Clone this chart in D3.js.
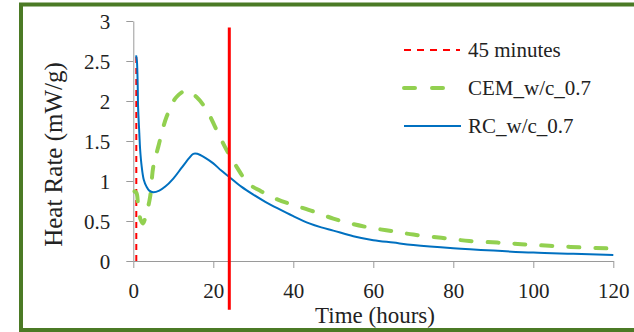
<!DOCTYPE html>
<html><head><meta charset="utf-8">
<script src="https://cdn.jsdelivr.net/npm/d3@7"></script>
<style>body{margin:0;background:#fff}svg{display:block}text{font-family:"Liberation Serif","Times New Roman",serif;fill:#222}</style>
</head><body><svg id="c" width="634" height="332"></svg>
<script>
// ---- data ----
const rcTime = [0.7,0.9,1.1,1.2,1.5,1.7,2.1,2.6,3.3,4,5,6.5,8,10,12,14,15,16,18,20,22,24,27,30,33,36,40,44,47,50,55,60,65,70,80,90,100,110,120];
const rcRate = [2.57,2.5,2.2,1.92,1.6,1.4,1.18,1.02,0.93,0.88,0.86,0.88,0.93,1.03,1.16,1.29,1.34,1.34,1.29,1.22,1.13,1.05,0.93,0.83,0.74,0.66,0.56,0.47,0.42,0.38,0.31,0.26,0.23,0.2,0.16,0.13,0.105,0.09,0.075];
const cemTime = [0.3,0.8,1.2,1.8,2.4,3.3,4.2,5,6.25,8.3,10.8,13.3,15.8,18.3,20.8,23.3,25.8,28.75,32,36,40,45,50,55,60,65,70,77,84,91,97,104,112,120];
const cemRate = [0.87,0.85,0.7,0.52,0.47,0.6,0.8,1.18,1.43,1.8,2.05,2.13,2.05,1.89,1.64,1.39,1.18,0.97,0.87,0.77,0.7,0.62,0.53,0.46,0.41,0.37,0.33,0.29,0.25,0.23,0.21,0.19,0.17,0.155];
const markerTime = [0.75, 24];          // 45 minutes, 24 h
const markerFrom = [0, -0.61];
const markerTo = [2.55, 2.92];
const xTicks = [0,20,40,60,80,100,120];
const yTicks = [0,0.5,1,1.5,2,2.5,3];
const legendLabels = ["45 minutes","CEM_w/c_0.7","RC_w/c_0.7"];
const xTitle = "Time (hours)";
const yTitle = "Heat Rate (mW/g)";

// ---- drawing ----
const svg = d3.select("#c");
const x = d3.scaleLinear().domain([0,120]).range([133.3,613.3]);
const y = d3.scaleLinear().domain([0,3]).range([261,21]);

svg.append("rect").attr("x",21).attr("y",4.5).attr("width",640).attr("height",325.5)
  .attr("fill","none").attr("stroke","#4b7a25").attr("stroke-width",4);

const axisColor = "#9a9a9a";
const gx = svg.append("g").attr("transform","translate(0,261)")
  .call(d3.axisBottom(x).tickValues(xTicks).tickSize(7).tickSizeOuter(0).tickFormat(d3.format("d")));
const gy = svg.append("g").attr("transform","translate(133.3,0)")
  .call(d3.axisLeft(y).tickValues(yTicks).tickSize(7).tickSizeOuter(0).tickFormat(d=>String(d)));
[gx,gy].forEach(g=>{
  g.select(".domain").attr("stroke",axisColor);
  g.selectAll(".tick line").attr("stroke",axisColor);
  g.selectAll(".tick text").attr("font-size",21).attr("fill","#222").style("font-family","Liberation Serif, serif");
});
gx.selectAll(".tick text").attr("dy",0).attr("y",37);
gy.selectAll(".tick text").attr("x",-23).attr("dy","0.34em");

const line = d3.line().x(d=>x(d[0])).y(d=>y(d[1])).curve(d3.curveCatmullRom.alpha(0.5));

// markers
svg.append("line").attr("x1",x(markerTime[0])).attr("x2",x(markerTime[0]))
  .attr("y1",y(markerFrom[0])).attr("y2",y(markerTo[0]))
  .attr("stroke","#ff0000").attr("stroke-width",2).attr("stroke-dasharray","6 5");

svg.append("path").datum(d3.zip(cemTime,cemRate)).attr("d",line).attr("fill","none")
  .attr("stroke","#92d050").attr("stroke-width",4).attr("stroke-linecap","round").attr("stroke-dasharray","11 16");
svg.append("path").datum(d3.zip(rcTime,rcRate)).attr("d",line).attr("fill","none")
  .attr("stroke","#0070c0").attr("stroke-width",2);

svg.append("line").attr("x1",x(markerTime[1])).attr("x2",x(markerTime[1]))
  .attr("y1",y(markerFrom[1])).attr("y2",y(markerTo[1]))
  .attr("stroke","#ff0000").attr("stroke-width",3);

// titles
svg.append("text").attr("x",375).attr("y",323).attr("text-anchor","middle").attr("font-size",23).text(xTitle);
svg.append("text").attr("transform","translate(62,154.5) rotate(-90)").attr("text-anchor","middle").attr("font-size",25).text(yTitle);

// legend
const legY = [50,88,126];
const lg = svg.append("g");
lg.append("line").attr("x1",404).attr("x2",460).attr("y1",legY[0]).attr("y2",legY[0])
  .attr("stroke","#ff0000").attr("stroke-width",2).attr("stroke-dasharray","7 6");
lg.append("line").attr("x1",404).attr("x2",460).attr("y1",legY[1]).attr("y2",legY[1])
  .attr("stroke","#92d050").attr("stroke-width",4).attr("stroke-linecap","round").attr("stroke-dasharray","11 17");
lg.append("line").attr("x1",404).attr("x2",461).attr("y1",legY[2]).attr("y2",legY[2])
  .attr("stroke","#0070c0").attr("stroke-width",2);
legendLabels.forEach((t,i)=>{
  lg.append("text").attr("x",468).attr("y",legY[i]).attr("dy","0.34em").attr("font-size",21).text(t);
});
</script></body></html>
